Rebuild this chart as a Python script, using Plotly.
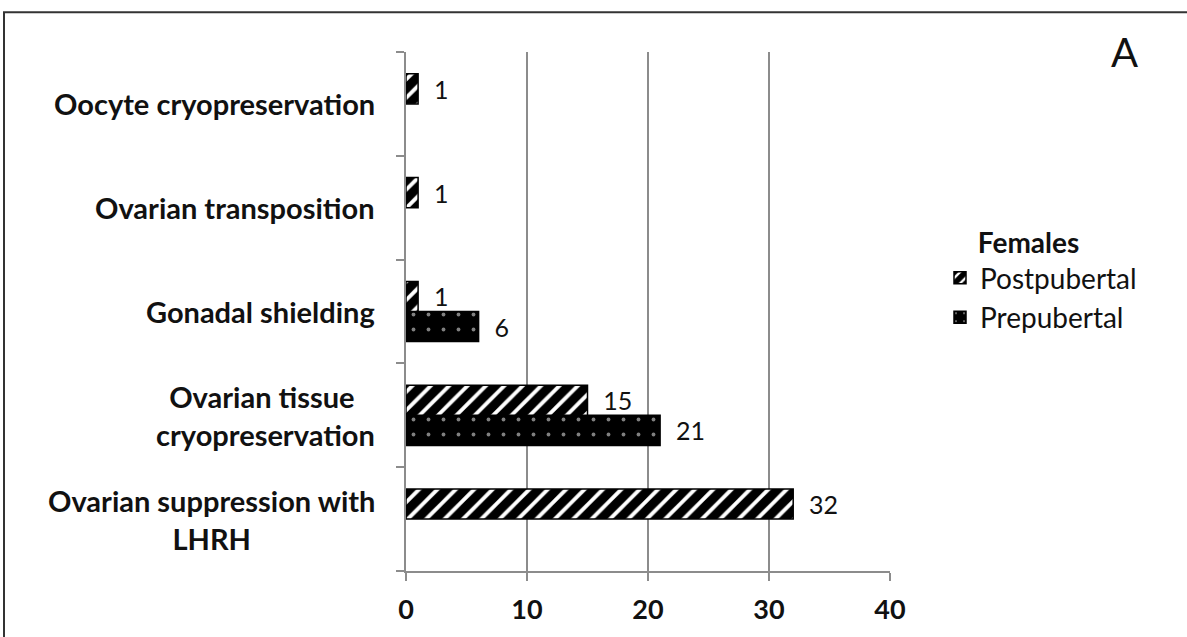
import plotly.graph_objects as go

categories = ["Ovarian suppression with<br>LHRH", "Ovarian tissue <br>cryopreservation",
              "Gonadal shielding", "Ovarian transposition", "Oocyte cryopreservation"]
postpubertal = [32, 15, 1, 1, 1]
prepubertal = [None, 21, 6, None, None]
x_ticks = [0, 10, 20, 30, 40]

FONT = "Lato"
L, R, T, B = 406, 297, 52, 62
PW, PH = 1187 - L - R, 637 - T - B


def px(x):
    return (x - L) / PW


def py(y):
    return (637 - B - y) / PH


fig = go.Figure()
fig.add_trace(go.Bar(
    y=categories, x=prepubertal, orientation="h", name="Prepubertal",
    marker=dict(color="black", line=dict(color="black", width=1.5),
                pattern=dict(shape=".", fgcolor="white", bgcolor="black", size=15, solidity=0.05)),
    texttemplate="\u00a0\u00a0%{x}", textposition="outside",
    textfont=dict(family=FONT, size=25, color="#111"), cliponaxis=False,
))
fig.add_trace(go.Bar(
    y=categories, x=postpubertal, orientation="h", name="Postpubertal",
    marker=dict(color="white", line=dict(color="black", width=1.5),
                pattern=dict(shape="/", fgcolor="black", bgcolor="white", size=13,
                             solidity=0.7, fgopacity=1)),
    texttemplate="\u00a0\u00a0%{x}", textposition="outside",
    textfont=dict(family=FONT, size=25, color="#111"), cliponaxis=False,
))

# category labels as centered annotations
for c in categories:
    fig.add_annotation(x=0, xref="paper", y=c, yref="y", text="<b>" + c + "</b>",
                       xanchor="right", xshift=-29, align="center", showarrow=False,
                       font=dict(family=FONT, size=29, color="#111"))

fig.add_annotation(x=px(1140), xref="paper", y=py(52), yref="paper", yanchor="middle",
                   text="A", showarrow=False, font=dict(family=FONT, size=40, color="#111"))

# outer frame
fig.add_shape(type="rect", xref="paper", yref="paper",
              x0=px(4), x1=px(1200), y0=py(680), y1=py(12),
              line=dict(color="#333", width=2), fillcolor="rgba(0,0,0,0)", layer="below")

fig.update_layout(
    width=1187, height=637,
    margin=dict(l=L, r=R, t=T, b=B),
    paper_bgcolor="white", plot_bgcolor="white",
    barmode="group", bargap=0.42, bargroupgap=0,
    font=dict(family=FONT, color="#111"),
    legend=dict(x=px(940), y=py(218), xanchor="left", yanchor="top", traceorder="reversed",
                title=dict(text="\u00a0\u00a0\u00a0\u00a0\u00a0<b>Females</b>",
                           font=dict(family=FONT, size=28)),
                font=dict(family=FONT, size=28), bgcolor="rgba(0,0,0,0)",
                itemwidth=30),
    xaxis=dict(range=[0, 40], tickvals=x_ticks, ticktext=["<b>%d</b>" % v for v in x_ticks],
               showgrid=True, gridcolor="#8c8c8c", gridwidth=1.5,
               showline=True, linecolor="#8c8c8c", linewidth=1.5,
               ticks="outside", ticklen=8, tickcolor="#8c8c8c", tickwidth=1.5,
               ticklabelstandoff=6,
               tickfont=dict(family=FONT, size=27, color="#111"), zeroline=False),
    yaxis=dict(type="category", categoryorder="array", categoryarray=categories,
               showticklabels=False, showline=True, linecolor="#8c8c8c", linewidth=1.5,
               ticks="outside", tickson="boundaries", ticklen=8, tickcolor="#8c8c8c",
               tickwidth=1.5, showgrid=False),
)

fig.write_html("out.html", config={"displayModeBar": False},
               post_script="document.body.style.margin='0px';")
